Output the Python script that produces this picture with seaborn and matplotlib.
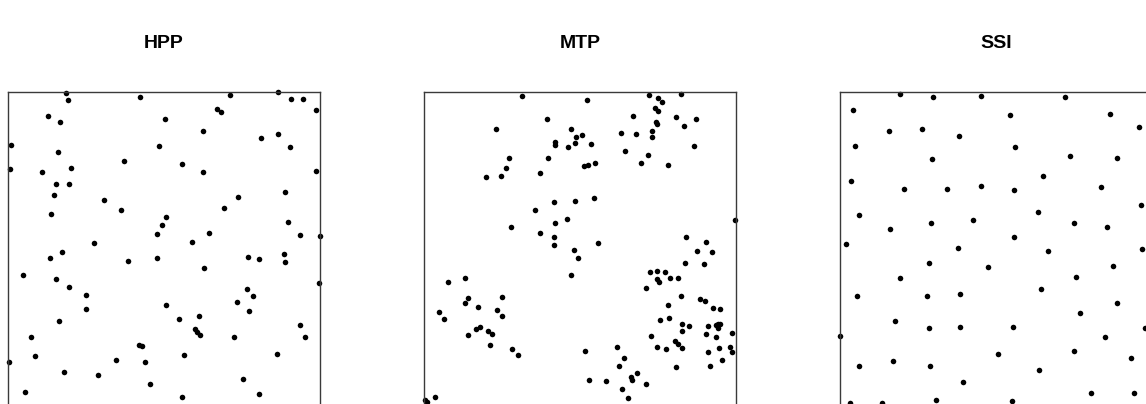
import matplotlib
matplotlib.use("Agg")
import matplotlib.pyplot as plt
import pandas as pd
import seaborn as sns

# Point patterns on the unit square window
hpp_x = [0.186, 0.192, 0.424, 0.127, 0.166, 0.503, 0.009, 0.484, 0.159, 0.372,
         0.005, 0.108, 0.201, 0.153, 0.195, 0.146, 0.308, 0.362, 0.137, 0.506,
         0.494, 0.478, 0.276, 0.713, 0.864, 0.906, 0.945, 0.671, 0.684, 0.986,
         0.625, 0.810, 0.864, 0.903, 0.559, 0.625, 0.986, 0.887, 0.738, 0.693,
         0.896, 0.645, 0.935, 0.999, 0.591, 0.174, 0.136, 0.385, 0.478, 0.047,
         0.153, 0.195, 0.249, 0.249, 0.506, 0.163, 0.073, 0.420, 0.430, 0.086,
         0.002, 0.346, 0.439, 0.179, 0.288, 0.455, 0.055, 0.770, 0.805, 0.884,
         0.887, 0.629, 0.997, 0.767, 0.784, 0.735, 0.773, 0.549, 0.613, 0.599,
         0.605, 0.616, 0.725, 0.937, 0.951, 0.564, 0.863, 0.754, 0.805, 0.558]
hpp_y = [0.998, 0.974, 0.984, 0.923, 0.904, 0.913, 0.830, 0.826, 0.807, 0.778,
         0.752, 0.743, 0.755, 0.704, 0.704, 0.669, 0.653, 0.623, 0.608, 0.600,
         0.575, 0.546, 0.517, 0.991, 0.999, 0.978, 0.978, 0.946, 0.936, 0.942,
         0.875, 0.852, 0.864, 0.823, 0.768, 0.743, 0.746, 0.679, 0.663, 0.629,
         0.582, 0.547, 0.543, 0.539, 0.518, 0.487, 0.469, 0.459, 0.469, 0.414,
         0.401, 0.375, 0.349, 0.304, 0.317, 0.266, 0.214, 0.188, 0.185, 0.153,
         0.134, 0.140, 0.134, 0.102, 0.092, 0.063, 0.039, 0.472, 0.466, 0.482,
         0.455, 0.436, 0.388, 0.369, 0.346, 0.327, 0.298, 0.271, 0.281, 0.239,
         0.230, 0.220, 0.214, 0.252, 0.214, 0.156, 0.159, 0.079, 0.031, 0.021]

mtp_x = [0.313, 0.522, 0.393, 0.232, 0.470, 0.487, 0.505, 0.419, 0.419, 0.484,
         0.461, 0.271, 0.396, 0.264, 0.514, 0.200, 0.246, 0.371, 0.416, 0.484,
         0.355, 0.457, 0.278, 0.419, 0.371, 0.416, 0.416, 0.481, 0.721, 0.750,
         0.764, 0.824, 0.740, 0.751, 0.670, 0.808, 0.873, 0.833, 0.743, 0.748,
         0.534, 0.631, 0.679, 0.731, 0.731, 0.866, 0.644, 0.719, 0.696, 0.783,
         0.527, 0.548, 0.545, 0.996, 0.841, 0.905, 0.558, 0.876, 0.924, 0.493,
         0.470, 0.078, 0.132, 0.142, 0.132, 0.251, 0.049, 0.063, 0.174, 0.235,
         0.251, 0.168, 0.180, 0.142, 0.206, 0.217, 0.211, 0.283, 0.300, 0.036,
         0.003, 0.010, 0.838, 0.898, 0.724, 0.748, 0.772, 0.747, 0.754, 0.789,
         0.815, 0.712, 0.825, 0.886, 0.901, 0.783, 0.927, 0.950, 0.757, 0.786,
         0.828, 0.850, 0.826, 0.911, 0.935, 0.941, 0.948, 0.943, 0.988, 0.905,
         0.937, 0.729, 0.804, 0.813, 0.748, 0.777, 0.828, 0.946, 0.982, 0.986,
         0.911, 0.516, 0.619, 0.642, 0.625, 0.956, 0.918, 0.809, 0.683, 0.663,
         0.668, 0.712, 0.529, 0.583, 0.635, 0.654]
mtp_y = [0.987, 0.975, 0.913, 0.881, 0.881, 0.855, 0.861, 0.841, 0.831, 0.836,
         0.823, 0.788, 0.788, 0.755, 0.763, 0.727, 0.730, 0.739, 0.646, 0.652,
         0.623, 0.594, 0.568, 0.579, 0.549, 0.536, 0.511, 0.495, 0.991, 0.981,
         0.969, 0.995, 0.950, 0.939, 0.923, 0.920, 0.913, 0.891, 0.904, 0.898,
         0.832, 0.868, 0.864, 0.874, 0.855, 0.827, 0.811, 0.797, 0.771, 0.765,
         0.765, 0.771, 0.659, 0.589, 0.536, 0.520, 0.517, 0.491, 0.487, 0.469,
         0.414, 0.390, 0.405, 0.339, 0.324, 0.343, 0.295, 0.271, 0.311, 0.301,
         0.281, 0.240, 0.246, 0.220, 0.234, 0.223, 0.188, 0.175, 0.156, 0.021,
         0.013, 0.006, 0.452, 0.449, 0.423, 0.426, 0.423, 0.401, 0.391, 0.404,
         0.404, 0.372, 0.346, 0.337, 0.329, 0.316, 0.308, 0.304, 0.268, 0.275,
         0.255, 0.249, 0.234, 0.249, 0.252, 0.255, 0.255, 0.244, 0.229, 0.223,
         0.214, 0.217, 0.203, 0.191, 0.182, 0.175, 0.179, 0.179, 0.182, 0.166,
         0.166, 0.169, 0.182, 0.146, 0.121, 0.140, 0.121, 0.118, 0.098, 0.086,
         0.076, 0.063, 0.076, 0.073, 0.047, 0.018]

ssi_x = [0.192, 0.299, 0.451, 0.042, 0.157, 0.264, 0.382, 0.048, 0.296, 0.035,
         0.206, 0.344, 0.451, 0.061, 0.160, 0.293, 0.427, 0.018, 0.379, 0.720,
         0.546, 0.865, 0.958, 0.560, 0.737, 0.888, 0.650, 0.557, 0.836, 0.965,
         0.634, 0.749, 0.856, 0.557, 0.666, 0.968, 0.286, 0.473, 0.192, 0.054,
         0.280, 0.386, 0.177, 0.286, 0.386, 0.000, 0.061, 0.171, 0.289, 0.395,
         0.032, 0.135, 0.309, 0.875, 0.756, 0.643, 0.888, 0.769, 0.554, 0.978,
         0.849, 0.505, 0.749, 0.933, 0.637, 0.804, 0.942, 0.550]
ssi_y = [0.994, 0.984, 0.987, 0.942, 0.875, 0.881, 0.859, 0.827, 0.785, 0.714,
         0.688, 0.688, 0.699, 0.605, 0.562, 0.579, 0.589, 0.514, 0.501, 0.984,
         0.926, 0.929, 0.888, 0.824, 0.795, 0.788, 0.730, 0.685, 0.695, 0.637,
         0.614, 0.579, 0.568, 0.534, 0.490, 0.498, 0.452, 0.439, 0.404, 0.346,
         0.346, 0.353, 0.266, 0.243, 0.246, 0.217, 0.121, 0.137, 0.121, 0.071,
         0.003, 0.003, 0.014, 0.442, 0.407, 0.369, 0.324, 0.292, 0.246, 0.243,
         0.214, 0.159, 0.169, 0.146, 0.108, 0.036, 0.036, 0.011]

titles = ["HPP", "MTP", "SSI"]
patterns = [(hpp_x, hpp_y), (mtp_x, mtp_y), (ssi_x, ssi_y)]

sns.set_style("white")
plt.rcParams["font.family"] = ["Liberation Sans", "DejaVu Sans"]

W, H = 1146, 404
fig = plt.figure(figsize=(W / 100, H / 100), dpi=100)

box_px = 312
lefts_px = [8, 424, 840]
top_px = 92
extra_px = 3  # the window extends slightly below the lower figure edge

for left, title, (xs, ys) in zip(lefts_px, titles, patterns):
    ax = fig.add_axes([left / W, (H - top_px - box_px - extra_px) / H,
                       box_px / W, (box_px + extra_px) / H])
    df = pd.DataFrame({"x": xs, "y": ys})
    sns.scatterplot(data=df, x="x", y="y", ax=ax, color="black", s=16,
                    linewidth=0, legend=False, clip_on=False)
    ax.set_xlim(0, 1)
    ax.set_ylim(-extra_px / box_px, 1)
    ax.set_xticks([])
    ax.set_yticks([])
    ax.set_xlabel("")
    ax.set_ylabel("")
    for sp in ax.spines.values():
        sp.set_visible(True)
        sp.set_color("#3a3a3a")
        sp.set_linewidth(1.0)
    fig.text((left + box_px / 2) / W, 1 - 44 / H, title, ha="center",
             va="center", fontsize=14, fontweight="bold", color="black")

fig.savefig("out.png", dpi=100)
